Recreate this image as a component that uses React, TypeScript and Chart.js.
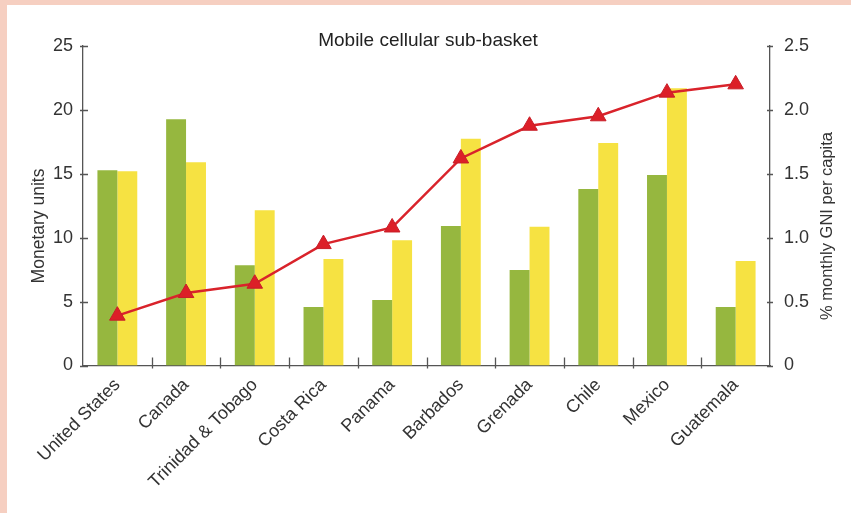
import React, { useEffect, useRef } from "react";
import { Chart, registerables } from "chart.js";

Chart.register(...registerables);

const categories = [
  "United States",
  "Canada",
  "Trinidad & Tobago",
  "Costa Rica",
  "Panama",
  "Barbados",
  "Grenada",
  "Chile",
  "Mexico",
  "Guatemala",
];
const greenValues = [15.27, 19.27, 7.84, 4.58, 5.12, 10.92, 7.47, 13.81, 14.9, 4.58];
const yellowValues = [15.2, 15.9, 12.14, 8.33, 9.8, 17.75, 10.86, 17.41, 21.69, 8.18];
const gniValues = [0.39, 0.567, 0.64, 0.95, 1.08, 1.62, 1.876, 1.95, 2.135, 2.2];
const leftTicks = [0, 5, 10, 15, 20, 25];
const rightTicks = [0, 0.5, 1.0, 1.5, 2.0, 2.5];

const chartTitle = "Mobile cellular sub-basket";
const leftAxisTitle = "Monetary units";
const rightAxisTitle = "% monthly GNI per capita";

const FONT = "'Liberation Sans', Arial, sans-serif";
const TEXT = "#333333";
const AXIS = "#555555";

const decorPlugin = {
  id: "decor",
  afterDraw(chart: any) {
    const { ctx, chartArea, scales } = chart;
    const x = scales.x;
    const y = scales.y;
    const y1 = scales.y1;
    ctx.save();
    ctx.strokeStyle = AXIS;
    ctx.lineWidth = 1.3;
    ctx.beginPath();
    leftTicks.forEach((v) => {
      const py = Math.round(y.getPixelForValue(v)) + 0.5;
      ctx.moveTo(chartArea.left - 3, py);
      ctx.lineTo(chartArea.left + 5, py);
    });
    rightTicks.forEach((v) => {
      const py = Math.round(y1.getPixelForValue(v)) + 0.5;
      ctx.moveTo(chartArea.right - 3, py);
      ctx.lineTo(chartArea.right + 3, py);
    });
    for (let i = 1; i < categories.length; i++) {
      const px = Math.round((x.getPixelForValue(i - 1) + x.getPixelForValue(i)) / 2) + 0.5;
      ctx.moveTo(px, chartArea.bottom - 8);
      ctx.lineTo(px, chartArea.bottom + 3);
    }
    ctx.stroke();

    ctx.fillStyle = "#222222";
    ctx.font = `19px ${FONT}`;
    ctx.textAlign = "center";
    ctx.textBaseline = "middle";
    ctx.fillText(chartTitle, 421, 36);

    ctx.fillStyle = TEXT;
    ctx.save();
    ctx.translate(32, 221);
    ctx.rotate(-Math.PI / 2);
    ctx.font = `17.5px ${FONT}`;
    ctx.fillText(leftAxisTitle, 0, 0);
    ctx.restore();

    ctx.save();
    ctx.translate(820, 221);
    ctx.rotate(-Math.PI / 2);
    ctx.font = `16.5px ${FONT}`;
    ctx.fillText(rightAxisTitle, 0, 0);
    ctx.restore();

    ctx.restore();
  },
};

export default function App() {
  const canvasRef = useRef<HTMLCanvasElement | null>(null);

  useEffect(() => {
    const canvas = canvasRef.current;
    if (!canvas) return;
    const chart = new Chart(canvas, {
      type: "bar",
      data: {
        labels: categories,
        datasets: [
          {
            type: "line",
            label: "% monthly GNI per capita",
            data: gniValues,
            yAxisID: "y1",
            borderColor: "#d9232b",
            backgroundColor: "#d9232b",
            borderWidth: 2.5,
            pointStyle: "triangle",
            pointRadius: 9,
            pointBackgroundColor: "#dc1f28",
            pointBorderColor: "#c81e28",
            pointBorderWidth: 1,
            tension: 0,
            order: 0,
          } as any,
          {
            type: "bar",
            label: "Series 1",
            data: greenValues,
            yAxisID: "y",
            backgroundColor: "#96b73f",
            barPercentage: 1,
            categoryPercentage: 0.58,
            order: 1,
          },
          {
            type: "bar",
            label: "Series 2",
            data: yellowValues,
            yAxisID: "y",
            backgroundColor: "#f6e242",
            barPercentage: 1,
            categoryPercentage: 0.58,
            order: 1,
          },
        ],
      },
      options: {
        responsive: false,
        devicePixelRatio: 1,
        animation: false,
        layout: { padding: { top: 41, left: 0, right: 0, bottom: 0 } },
        plugins: {
          legend: { display: false },
          tooltip: { enabled: false },
          title: { display: false },
        },
        scales: {
          x: {
            grid: { display: false, drawTicks: false },
            border: { display: true, color: AXIS, width: 1.3 },
            ticks: {
              font: { family: FONT, size: 18 },
              color: TEXT,
              minRotation: 45,
              maxRotation: 45,
              padding: 9,
              autoSkip: false,
            },
            afterFit: (s: any) => {
              s.height = 147.5;
            },
          },
          y: {
            position: "left",
            min: 0,
            max: 25,
            grid: { display: false, drawTicks: false },
            border: { display: true, color: AXIS, width: 1.3 },
            ticks: {
              stepSize: 5,
              font: { family: FONT, size: 18 },
              color: TEXT,
              padding: 10,
            },
            afterBuildTicks: (s: any) => {
              s.ticks = leftTicks.map((v) => ({ value: v }));
            },
            afterFit: (s: any) => {
              s.width = 76;
            },
          },
          y1: {
            position: "right",
            min: 0,
            max: 2.5,
            grid: { display: false, drawTicks: false },
            border: { display: true, color: AXIS, width: 1.3 },
            ticks: {
              stepSize: 0.5,
              font: { family: FONT, size: 18 },
              color: TEXT,
              padding: 14,
              callback: (v: any) => (Number(v) === 0 ? "0" : Number(v).toFixed(1)),
            },
            afterBuildTicks: (s: any) => {
              s.ticks = rightTicks.map((v) => ({ value: v }));
            },
            afterFit: (s: any) => {
              s.width = 81;
            },
          },
        },
      },
      plugins: [decorPlugin],
    });
    return () => chart.destroy();
  }, []);

  return (
    <div
      style={{
        position: "fixed",
        left: 0,
        top: 0,
        width: 851,
        height: 513,
        background: "#f6cfc1",
        overflow: "hidden",
      }}
    >
      <div
        style={{
          position: "absolute",
          left: 7,
          top: 5,
          width: 844,
          height: 508,
          background: "#ffffff",
        }}
      >
        <canvas ref={canvasRef} width={844} height={508} style={{ display: "block" }} />
      </div>
    </div>
  );
}
